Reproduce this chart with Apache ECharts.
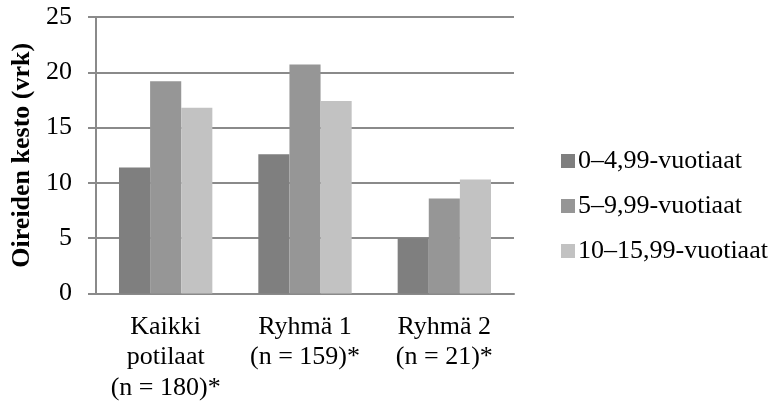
<!DOCTYPE html>
<html>
<head>
<meta charset="utf-8">
<script src="https://cdn.jsdelivr.net/npm/echarts@6/dist/echarts.min.js"></script>
<style>
  html, body { margin: 0; padding: 0; background: #fff; }
  #chart { width: 771px; height: 403px; }
</style>
</head>
<body>
<div id="chart"></div>
<script>
// categories and series
const categories = ['Kaikki\npotilaat\n(n = 180)*', 'Ryhmä 1\n(n = 159)*', 'Ryhmä 2\n(n = 21)*'];
const seriesNames = ['0–4,99-vuotiaat', '5–9,99-vuotiaat', '10–15,99-vuotiaat'];
const age0to5 = [11.4, 12.6, 5.0];
const age5to10 = [19.2, 20.7, 8.6];
const age10to16 = [16.8, 17.4, 10.3];
const yTicks = [0, 5, 10, 15, 20, 25];

const colors = ['#7f7f7f', '#969696', '#c2c2c2'];
const font = '"Liberation Serif", "DejaVu Serif", serif';

const chart = echarts.init(document.getElementById('chart'));

const mkSeries = (name, data, i) => ({
  name,
  type: 'bar',
  data,
  barGap: '0%',
  barCategoryGap: '33%',
  itemStyle: { color: colors[i] },
});

chart.setOption({
  animation: false,
  textStyle: { fontFamily: font },
  grid: { left: 96, right: 257, top: 17, bottom: 109 },
  legend: {
    orient: 'vertical',
    left: 556,
    top: 143,
    itemWidth: 14,
    itemHeight: 14,
    itemGap: 19,
    icon: 'rect',
    textStyle: { fontFamily: font, fontSize: 26, color: '#000', padding: [0, 0, 0, -2] },
    data: seriesNames,
  },
  xAxis: {
    type: 'category',
    data: categories,
    axisLine: { lineStyle: { color: '#8a8a8a', width: 2 } },
    axisTick: { show: false },
    axisLabel: {
      fontFamily: font,
      fontSize: 26,
      color: '#000',
      lineHeight: 30.5,
      margin: 18,
      interval: 0,
    },
  },
  yAxis: {
    type: 'value',
    min: yTicks[0],
    max: yTicks[yTicks.length - 1],
    interval: 5,
    name: 'Oireiden kesto (vrk)',
    nameLocation: 'middle',
    nameGap: 57,
    nameTextStyle: { fontFamily: font, fontSize: 26, fontWeight: 'bold', color: '#000' },
    axisLine: { show: true, lineStyle: { color: '#8a8a8a', width: 2 } },
    axisTick: { show: true, inside: false, length: 8, lineStyle: { color: '#8a8a8a', width: 2 } },
    splitLine: { lineStyle: { color: '#8a8a8a', width: 2 } },
    axisLabel: { fontFamily: font, fontSize: 26, color: '#000', margin: 24 },
  },
  series: [
    mkSeries(seriesNames[0], age0to5, 0),
    mkSeries(seriesNames[1], age5to10, 1),
    mkSeries(seriesNames[2], age10to16, 2),
  ],
});
</script>
</body>
</html>
